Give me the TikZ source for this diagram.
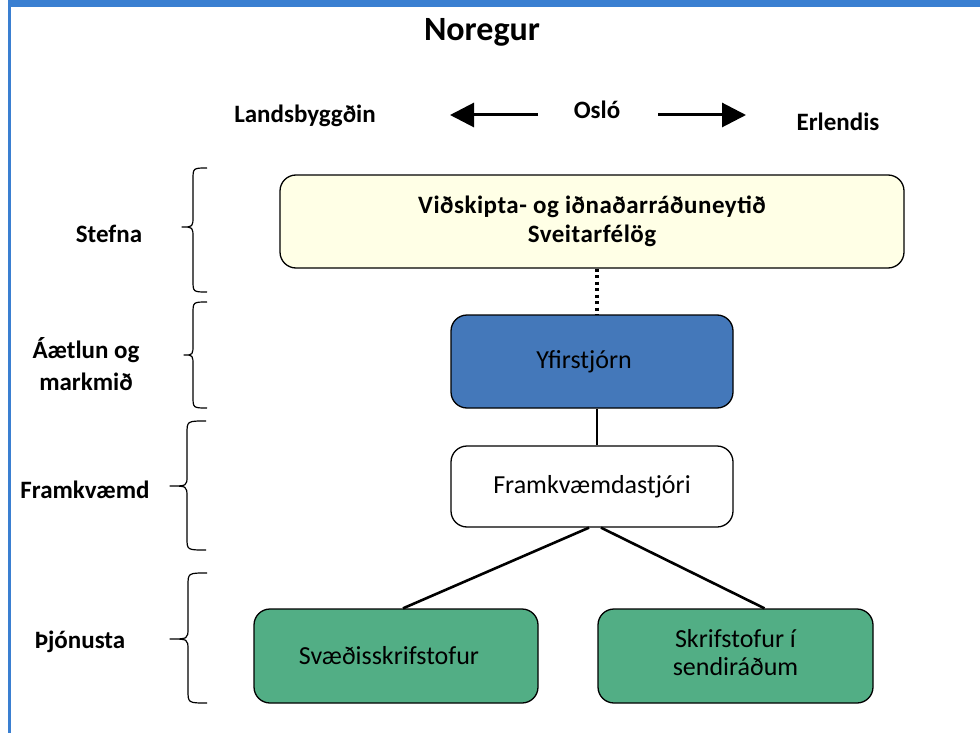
\documentclass[tikz,border=0pt]{standalone}
\usepackage{fontspec}
\setmainfont{Carlito}
\usetikzlibrary{arrows.meta,backgrounds}
\definecolor{bandblue}{HTML}{3A7FD1}
\definecolor{cream}{HTML}{FFFFE6}
\definecolor{boxblue}{HTML}{4478BA}
\definecolor{boxgreen}{HTML}{52AE85}
\begin{document}
\begin{tikzpicture}[x=1pt,y=-1pt,
  orgbox/.style={draw=black, line width=1.3pt, rounded corners=16pt, align=center, inner sep=0pt},
  boxtext/.style={font=\fontsize{26}{29}\selectfont},
  lbl/.style={font=\bfseries\fontsize{25}{32}\selectfont, align=center, inner sep=0pt},
  conn/.style={line width=2.6pt},
  bigarrow/.style={line width=3pt, -{Triangle[length=24pt,width=24pt]}},
  bracepath/.style={line width=1.2pt, line join=round}
]
\useasboundingbox (0,0) rectangle (980,733);
\fill[white] (0,0) rectangle (980,733);
% frame
\fill[bandblue] (8,0) rectangle (980,7);
\fill[bandblue] (8,0) rectangle (10.5,733);

% title and orientation
\node[lbl, font=\bfseries\fontsize{34}{36}\selectfont] (title) at (482,32) {Noregur};
\node[lbl] (lands) at (305,116) {Landsbyggðin};
\node[lbl] (oslo) at (597,110) {Osló};
\node[lbl] (erl) at (838,122) {Erlendis};
\coordinate (la1) at (538,115);
\coordinate (la2) at (450,115);
\coordinate (ra1) at (658,115);
\coordinate (ra2) at (746,115);
\draw[bigarrow] (la1) -- (la2);
\draw[bigarrow] (ra1) -- (ra2);

% boxes
\node[orgbox, fill=cream, minimum width=624pt, minimum height=93pt,
  font=\bfseries\fontsize{25}{29}\selectfont\addfontfeature{LetterSpace=2}] (ydd) at (592,221.5)
  {Viðskipta- og iðnaðarráðuneytið\\Sveitarfélög};
\node[orgbox, boxtext, fill=boxblue, minimum width=282pt, minimum height=93pt] (yfir) at (592,361.5) {Yfirstjórn\hspace*{16pt}};
\node[orgbox, boxtext, fill=white, minimum width=282pt, minimum height=81pt] (fram) at (592,486.5) {Framkvæmdastjóri};
\node[orgbox, boxtext, fill=boxgreen, minimum width=284pt, minimum height=94pt] (svaed) at (396,656) {Svæðisskrifstofur\hspace*{14pt}};
\node[orgbox, fill=boxgreen, minimum width=275pt, minimum height=94pt,
  font=\fontsize{26}{28}\selectfont] (sendi) at (735.5,656) {Skrifstofur í\\sendiráðum\\[-20pt]};

\begin{scope}[on background layer]
  \fill[boxblue] (yfir.south west) rectangle (yfir.north east);
  \fill[boxgreen] (svaed.south west) rectangle (svaed.north east);
  \fill[boxgreen] (sendi.south west) rectangle (sendi.north east);
\end{scope}

% connectors
\draw[line width=3.2pt, dash pattern=on 3pt off 3.5pt] ([xshift=5pt]ydd.south) -- ([xshift=5pt]yfir.north);
\draw[conn] ([xshift=5pt]yfir.south) -- ([xshift=5pt]fram.north);
\draw[conn] ([xshift=-3pt]fram.south) -- ([xshift=7pt]svaed.north);
\draw[conn] ([xshift=9pt]fram.south) -- ([xshift=29pt]sendi.north);

% level labels
\node[lbl] (stefna) at (109,234) {Stefna};
\node[lbl] (aaetl) at (86,364) {Áætlun og\\markmið};
\node[lbl] (framkv) at (85,490) {Framkvæmd};
\node[lbl] (thjon) at (80,642) {Þjónusta};

% braces
\draw[bracepath] (207,168) .. controls (193,168) .. (193,180) -- (193,216)
  .. controls (193,227) .. (182,227) .. controls (193,227) .. (193,238) -- (193,280)
  .. controls (193,292) .. (207,292);
\draw[bracepath] (207,302) .. controls (193,302) .. (193,314) -- (193,344)
  .. controls (193,355) .. (184,355) .. controls (193,355) .. (193,366) -- (193,396)
  .. controls (193,408) .. (207,408);
\draw[bracepath] (206,421) .. controls (187,421) .. (187,434) -- (187,476)
  .. controls (187,486) .. (170,486) .. controls (187,486) .. (187,497) -- (187,538)
  .. controls (187,550) .. (206,550);
\draw[bracepath] (207,573) .. controls (188,573) .. (188,586) -- (188,628)
  .. controls (188,639) .. (170,639) .. controls (188,639) .. (188,650) -- (188,690)
  .. controls (188,703) .. (207,703);
\end{tikzpicture}
\end{document}
